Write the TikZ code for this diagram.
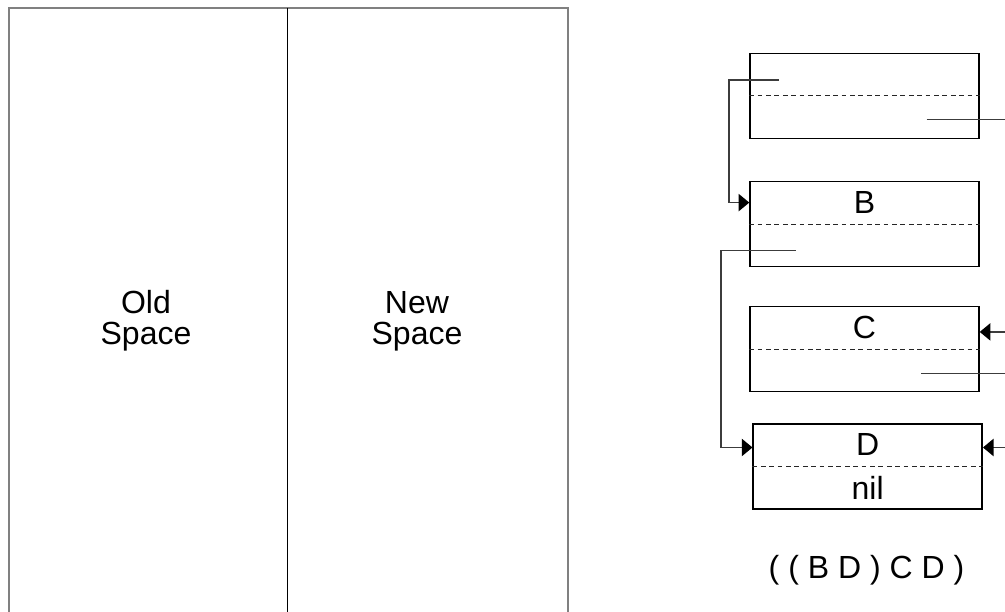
\documentclass[tikz,border=0pt]{standalone}
\usepackage{fontspec}
\setmainfont{Liberation Sans}
\usetikzlibrary{arrows.meta,calc}
\definecolor{linegray}{HTML}{3C3C3C}
\definecolor{framegray}{HTML}{808080}
\tikzset{
  cell/.style={draw=black, line width=1.1pt, inner sep=0pt, minimum width=171.75pt, minimum height=63.75pt},
  divide/.style={draw=black!85, line width=1pt, dash pattern=on 3.5pt off 2.8pt},
  ptr/.style={draw=linegray, line width=1pt},
  ptrarrow/.style={ptr, -{Triangle[length=8pt,width=13pt,color=black]}},
  lbl/.style={font=\fontsize{24}{23.5}\selectfont, inner sep=0pt, align=center},
  space/.style={draw=framegray, line width=1.6pt}
}
\begin{document}
\begin{tikzpicture}[x=0.75pt,y=-0.75pt]
\useasboundingbox (0,0) rectangle (1005,611);
\clip (0,0) rectangle (1005,611);
% memory spaces
\draw[space] (9,7.75) rectangle (568,630);
\draw[black, line width=0.7pt] (287,7.75) -- (287,630);
\node[lbl] (old) at (146,321) {Old\\Space};
\node[lbl] (new) at (417,321) {New\\Space};
% cells
\node[cell] (A) at (864.5,95.8) {};
\node[cell] (B) at (864.5,224.2) {};
\node[cell] (C) at (864.5,349.2) {};
\node[cell] (D) at (867.7,466.5) {};
\foreach \n in {A,B,C,D} \draw[divide] (\n.west) -- (\n.east);
\node[lbl] (Bt) at ($(B.north)!0.25!(B.south)$) {B};
\node[lbl] (Ct) at ($(C.north)!0.25!(C.south)$) {C};
\node[lbl] (Dt) at ($(D.north)!0.25!(D.south)$) {D};
\node[lbl] (Dn) at ($(D.north)!0.75!(D.south)$) {nil};
\node[lbl] (list) at (866.5,570) {( ( B D ) C D )};
% pointer coordinates
\coordinate (edge) at (1005,0);
\coordinate (a1) at (779,80);
\coordinate (a2) at (926.7,119.3);
\coordinate (b2) at (795.7,250.7);
\coordinate (c2) at (921,373.3);
\coordinate (Bin) at ($(B.north west)!0.25!(B.south west)$);
\coordinate (Cin) at ($(C.north east)!0.3!(C.south east)$);
\coordinate (Din) at ($(D.north west)!0.28!(D.south west)$);
\coordinate (Din2) at ($(D.north east)!0.28!(D.south east)$);
\coordinate (a2e) at (edge |- a2);
\coordinate (c2e) at (edge |- c2);
\coordinate (cinE) at (edge |- Cin);
\coordinate (dinE) at (edge |- Din2);
% connectors
\draw[ptrarrow] (a1) -- ++(-50,0) |- (Bin);
\draw[ptrarrow] (b2) -- ++(-74.7,0) |- (Din);
\draw[ptr] (a2) -- (a2e);
\draw[ptr] (c2) -- (c2e);
\draw[ptrarrow] (cinE) -- (Cin);
\draw[ptrarrow] (dinE) -- (Din2);
\end{tikzpicture}
\end{document}
